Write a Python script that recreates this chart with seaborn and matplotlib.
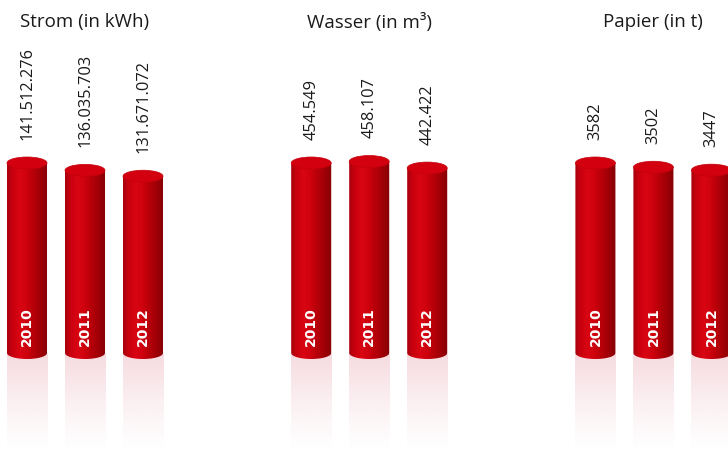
import numpy as np
import pandas as pd
import matplotlib
matplotlib.use("Agg")
import matplotlib.pyplot as plt
from matplotlib.patches import Ellipse, PathPatch
from matplotlib.path import Path
import seaborn as sns

# data
groups = ["Strom (in kWh)", "Wasser (in m³)", "Papier (in t)"]
years = ["2010", "2011", "2012"]
strom = [141512276, 136035703, 131671072]
wasser = [454549, 458107, 442422]
papier = [3582, 3502, 3447]
series = [strom, wasser, papier]


def fmt(v):
    # German thousands separator only for the large numbers
    return f"{v:,}".replace(",", ".") if v >= 10000 else str(v)


rows = []
group_step = 4.9
for g, (name, vals) in enumerate(zip(groups, series)):
    for i, (yr, v) in enumerate(zip(years, vals)):
        rows.append({"group": name, "year": yr, "value": v,
                     "norm": v / vals[0], "pos": g * group_step + i})
df = pd.DataFrame(rows)

sns.set_theme(style="white")
fig = plt.figure(figsize=(7.28, 4.51), dpi=100)
ax = fig.add_axes([0, 0, 1, 1])

sns.barplot(data=df, x="pos", y="norm", native_scale=True, width=0.69,
            errorbar=None, color="#c8000f", ax=ax)

# axis ranges: 1 unit in x = 58 px, norm 1.0 = 190 px
ax.set_xlim(-27 / 58, (728 - 27) / 58)
ax.set_ylim(-98 / 190, 353 / 190)
ax.axis("off")

eh = 6 / 190  # half height of the ellipses in data units

# horizontal shading of the cylinder body
stops_x = [0.0, 0.12, 0.3, 0.45, 0.6, 0.8, 1.0]
stops_c = np.array([
    [0.66, 0.00, 0.05],
    [0.78, 0.00, 0.06],
    [0.85, 0.02, 0.07],
    [0.82, 0.01, 0.06],
    [0.74, 0.00, 0.04],
    [0.64, 0.00, 0.03],
    [0.52, 0.00, 0.02],
])
xs = np.linspace(0, 1, 60)
body = np.stack([np.interp(xs, stops_x, stops_c[:, k]) for k in range(3)], axis=-1)
body = body[np.newaxis, :, :]

# reflection: pink fading to white
ys = np.linspace(0, 1, 80)
refl = np.ones((80, 60, 4))
refl[..., 0] = 0.95
refl[..., 1] = 0.80
refl[..., 2] = 0.83
refl[..., 3] = (1 - ys[:, None]) ** 1.2 * 0.7

bars = list(ax.patches)
for bar, (_, row) in zip(bars, df.iterrows()):
    x0 = bar.get_x()
    w = bar.get_width()
    h = bar.get_height()
    cx = x0 + w / 2
    bar.set_visible(False)

    t = np.linspace(np.pi, 2 * np.pi, 40)
    verts = [(x0, h), (x0, 0)]
    verts += list(zip(cx + w / 2 * np.cos(t), eh * np.sin(t)))
    verts += [(x0 + w, h), (x0, h)]
    clip = PathPatch(Path(verts), transform=ax.transData, facecolor="none",
                     edgecolor="none")
    ax.add_patch(clip)
    im = ax.imshow(body, extent=(x0, x0 + w, -eh, h), aspect="auto",
                   interpolation="bilinear", zorder=2)
    im.set_clip_path(clip)

    ax.imshow(refl, extent=(x0, x0 + w, ax.get_ylim()[0], -eh * 0.3),
              aspect="auto", interpolation="bilinear", zorder=1)

    ax.add_patch(Ellipse((cx, h), w, 2 * eh, facecolor="#d3000f",
                         edgecolor="#c4000c", linewidth=0.5, zorder=3))

    ax.text(cx, 0.139, row["year"], rotation=90, ha="center", va="center",
            color="white", fontweight="bold", fontsize=10,
            family="DejaVu Sans", zorder=4)
    ax.text(cx, h + eh + 0.09, fmt(row["value"]), rotation=90,
            ha="center", va="bottom", color="#1a1a1a", fontsize=11.8,
            family="Open Sans", zorder=4)

for g, name in enumerate(groups):
    ax.text(g * group_step + 1, 1.742, name, ha="center", va="center",
            fontsize=13.5, family="Open Sans", color="#1a1a1a")

fig.savefig("out.png", dpi=100, facecolor="white")
